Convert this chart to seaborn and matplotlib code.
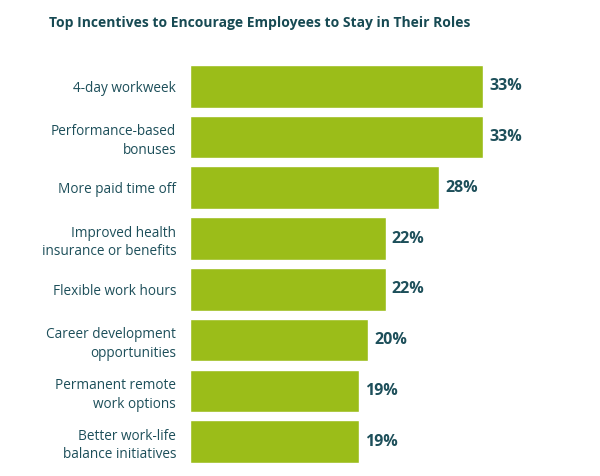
import pandas as pd
import matplotlib.pyplot as plt
import seaborn as sns

incentives = [
    "4-day workweek",
    "Performance-based\nbonuses",
    "More paid time off",
    "Improved health\ninsurance or benefits",
    "Flexible work hours",
    "Career development\nopportunities",
    "Permanent remote\nwork options",
    "Better work-life\nbalance initiatives",
]
shares = [33, 33, 28, 22, 22, 20, 19, 19]

df = pd.DataFrame({"incentive": incentives, "share": shares})

bar_color = "#9bbd19"
text_color = "#1d4f5a"

sns.set_style("white")
plt.rcParams["font.family"] = ["Open Sans", "DejaVu Sans"]

fig = plt.figure(figsize=(6, 4.76), dpi=100)
ax = fig.add_axes([0.3167, 0.019, 0.6166, 0.853])

sns.barplot(data=df, x="share", y="incentive", color=bar_color,
            width=0.84, saturation=1, ax=ax)

for i, v in enumerate(shares):
    ax.text(v + 0.7, i, f"{v}%", va="center", ha="left",
            fontsize=11.5, fontweight="bold", color=text_color)

ax.set_xlim(0, 41.6)
ax.set_ylim(7.5, -0.5)
ax.set_xlabel("")
ax.set_ylabel("")
ax.set_xticks([])
ax.tick_params(axis="y", length=0, pad=10, labelsize=9.8, labelcolor=text_color)
for lbl in ax.get_yticklabels():
    lbl.set_horizontalalignment("right")
    lbl.set_multialignment("right")
    lbl.set_linespacing(1.35)
sns.despine(ax=ax, left=True, bottom=True)

fig.text(0.433, 0.952, "Top Incentives to Encourage Employees to Stay in Their Roles",
         ha="center", va="center", fontsize=10, fontweight="bold", color="#174a53")

fig.savefig("out.png", dpi=100)
